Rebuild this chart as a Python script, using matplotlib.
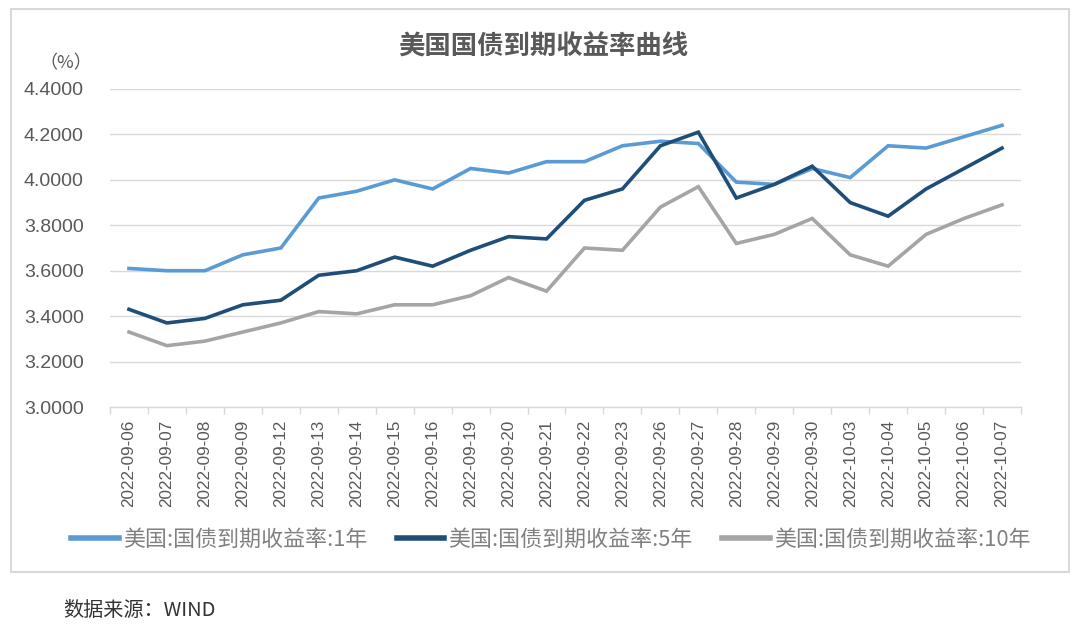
import matplotlib
matplotlib.use("Agg")
import matplotlib.pyplot as plt
from matplotlib.patches import Rectangle
import numpy as np

plt.rcParams["font.family"] = ["Liberation Sans", "Noto Sans CJK SC", "DejaVu Sans"]

TITLE = "美国国债到期收益率曲线"
SOURCE = "数据来源：WIND"
UNIT = "（%）"

DATES = [
    "2022-09-06", "2022-09-07", "2022-09-08", "2022-09-09", "2022-09-12",
    "2022-09-13", "2022-09-14", "2022-09-15", "2022-09-16", "2022-09-19",
    "2022-09-20", "2022-09-21", "2022-09-22", "2022-09-23", "2022-09-26",
    "2022-09-27", "2022-09-28", "2022-09-29", "2022-09-30", "2022-10-03",
    "2022-10-04", "2022-10-05", "2022-10-06", "2022-10-07",
]
Y1 = [3.61, 3.60, 3.60, 3.67, 3.70, 3.92, 3.95, 4.00, 3.96, 4.05, 4.03, 4.08,
      4.08, 4.15, 4.17, 4.16, 3.99, 3.98, 4.05, 4.01, 4.15, 4.14, 4.19, 4.24]
Y5 = [3.43, 3.37, 3.39, 3.45, 3.47, 3.58, 3.60, 3.66, 3.62, 3.69, 3.75, 3.74,
      3.91, 3.96, 4.15, 4.21, 3.92, 3.98, 4.06, 3.90, 3.84, 3.96, 4.05, 4.14]
Y10 = [3.33, 3.27, 3.29, 3.33, 3.37, 3.42, 3.41, 3.45, 3.45, 3.49, 3.57, 3.51,
       3.70, 3.69, 3.88, 3.97, 3.72, 3.76, 3.83, 3.67, 3.62, 3.76, 3.83, 3.89]
SERIES = [
    ("美国:国债到期收益率:1年", Y1, "#5b9bd5"),
    ("美国:国债到期收益率:5年", Y5, "#1f4e79"),
    ("美国:国债到期收益率:10年", Y10, "#a5a5a5"),
]
Y_TICKS = [3.0, 3.2, 3.4, 3.6, 3.8, 4.0, 4.2, 4.4]

W, H = 1080, 626
fig = plt.figure(figsize=(W / 100, H / 100), dpi=100)

# outer frame
fig.patches.append(Rectangle((11 / W, 1 - 572 / H), 1058 / W, 563 / H,
                             transform=fig.transFigure, fill=False,
                             edgecolor="#d9d9d9", linewidth=1.5))

ax = fig.add_axes([110 / W, 1 - 407 / H, 911 / W, 318 / H])
x = np.arange(len(DATES))
for label, vals, color in SERIES:
    ax.plot(x, vals, color=color, linewidth=2.6, label=label,
            solid_joinstyle="miter")

ax.set_xlim(-0.5, len(DATES) - 0.5)
ax.set_ylim(Y_TICKS[0], Y_TICKS[-1])
ax.set_yticks(Y_TICKS)
ax.set_yticklabels([f"{v:.4f}" for v in Y_TICKS], fontsize=14, color="#595959")
ax.set_xticks(x)
ax.set_xticklabels(DATES, rotation=90, fontsize=12.3, color="#595959")
ax.set_xticks(np.arange(len(DATES) + 1) - 0.5, minor=True)
ax.tick_params(axis="x", which="major", length=0, pad=9)
ax.tick_params(axis="x", which="minor", length=5, color="#d9d9d9", width=1)
ax.tick_params(axis="y", length=0, pad=19)

ax.grid(axis="y", color="#d9d9d9", linewidth=1)
ax.set_axisbelow(True)
for side in ["top", "right", "left"]:
    ax.spines[side].set_visible(False)
ax.spines["bottom"].set_color("#d9d9d9")
ax.spines["bottom"].set_linewidth(1)

fig.text(543 / W, 1 - 47 / H, TITLE, ha="center", va="center", fontsize=19,
         color="#595959", fontweight="bold", family=["Noto Sans CJK SC"])
fig.text(66 / W, 1 - 63 / H, UNIT, ha="center", va="center", fontsize=13,
         color="#595959", family=["Noto Sans CJK SC", "DejaVu Sans"])

leg = fig.legend(loc="center", bbox_to_anchor=(551 / W, 1 - 540 / H), ncol=3,
                 frameon=False, handlelength=2.15, handletextpad=0.2,
                 columnspacing=1.35,
                 prop={"family": ["Noto Sans CJK SC"], "size": 15.8})
for t in leg.get_texts():
    t.set_color("#808080")
for h in leg.legend_handles:
    h.set_linewidth(4)

fig.text(63 / W, 1 - 610 / H, SOURCE, ha="left", va="center", fontsize=14.5,
         color="#333333", family=["Noto Sans CJK SC"])

fig.savefig("out.png", dpi=100)
